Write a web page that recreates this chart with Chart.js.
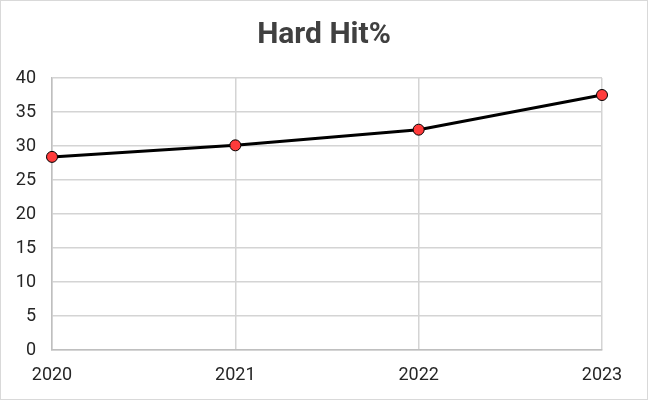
<!DOCTYPE html>
<html>
<head>
<meta charset="utf-8">
<script src="https://cdn.jsdelivr.net/npm/chart.js@4/dist/chart.umd.min.js"></script>
<style>
  body { margin: 0; background: #fff; }
  #wrap { width: 646px; height: 398px; border: 1px solid #d9d9d9; position: relative; }
</style>
</head>
<body>
<div id="wrap"><canvas id="line-chartcanvas"></canvas></div>
<script>
const years = ['2020', '2021', '2022', '2023'];
const hardHit = [28.4, 30.1, 32.4, 37.5];
const yTicks = [0, 5, 10, 15, 20, 25, 30, 35, 40];

const ctx = document.getElementById('line-chartcanvas');

const data = {
    labels: years,
    datasets: [
        {
            label: 'Hard Hit%',
            data: hardHit,
            borderColor: '#000000',
            borderWidth: 3,
            backgroundColor: '#ff3b3b',
            pointBackgroundColor: '#ff3b3b',
            pointBorderColor: '#000000',
            pointBorderWidth: 1,
            pointRadius: 5.5,
            fill: false,
            tension: 0
        }
    ]
};

const tickFont = { family: "Roboto, 'Liberation Sans', sans-serif", size: 18 };

//options
const options = {
    responsive: true,
    maintainAspectRatio: false,
    animation: false,
    layout: { padding: 0 },
    plugins: {
        legend: { display: false },
        tooltip: { enabled: false },
        title: {
            display: true,
            text: 'Hard Hit%',
            color: '#404040',
            font: { family: "Roboto, 'Liberation Sans', sans-serif", size: 30, weight: 'bold', lineHeight: 1.2 },
            padding: { top: 16, bottom: 25 }
        }
    },
    scales: {
        x: {
            offset: false,
            grid: { color: '#d4d4d4', lineWidth: 1.5, drawTicks: false },
            border: { color: '#bfbfbf', width: 1.5 },
            ticks: { color: '#262626', padding: 15, maxRotation: 0, font: tickFont },
            afterFit: function (scale) { scale.height = 49; }
        },
        y: {
            min: 0,
            max: 40,
            afterBuildTicks: function (scale) {
                scale.ticks = yTicks.map(function (v) { return { value: v }; });
            },
            grid: { color: '#d4d4d4', lineWidth: 1.5, drawTicks: false },
            border: { color: '#bfbfbf', width: 1.5 },
            ticks: { color: '#262626', padding: 16, font: tickFont },
            afterFit: function (scale) { scale.width = 51; }
        },
        // empty right axis, only keeps space on the right of the plot
        spacer: {
            position: 'right',
            grid: { display: false },
            border: { display: false },
            ticks: { display: false },
            afterFit: function (scale) { scale.width = 45; }
        }
    }
};

//create Chart class object
const chart = new Chart(ctx, {
    type: 'line',
    data: data,
    options: options
});
</script>
</body>
</html>
